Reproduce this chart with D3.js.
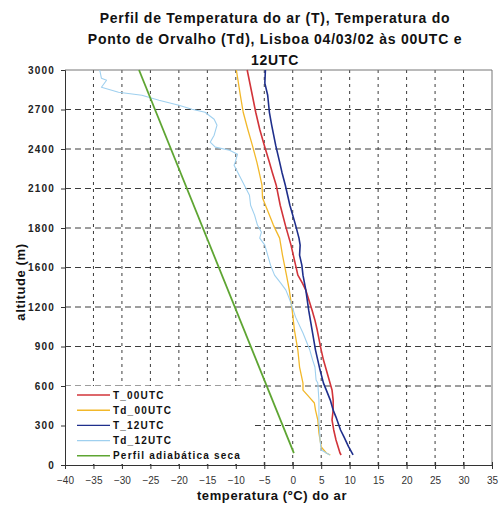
<!DOCTYPE html>
<html lang="pt">
<head>
<meta charset="UTF-8">
<title>Perfil de Temperatura - Lisboa 04/03/02</title>
<script src="https://d3js.org/d3.v7.min.js"></script>
<style>
  body { margin: 0; background: #fff; }
  svg { display: block; font-family: "Liberation Sans", Arial, sans-serif; }
  .grid-h { stroke: #3c3c3c; stroke-width: 1; stroke-dasharray: 6,4; }
  .grid-v { stroke: #3c3c3c; stroke-width: 1; stroke-dasharray: 3,4; }
  .title { font-size: 14px; font-weight: bold; fill: #111; letter-spacing: 0.75px; }
  .axis-title { font-size: 13px; font-weight: bold; fill: #111; letter-spacing: 0.6px; }
  .x-axis text { font-size: 10px; fill: #333; }
  .y-axis text { font-size: 10px; font-weight: bold; fill: #222; letter-spacing: 1.2px; }
  .axis path, .axis line { stroke: #333; }
  .legend text { font-size: 10px; font-weight: bold; fill: #111; letter-spacing: 1.2px; }
  .profile { fill: none; stroke-linejoin: round; }
</style>
</head>
<body>
<div id="chart"></div>
<script>
// tick values / labels as printed on the chart
const xTicks = [-40, -35, -30, -25, -20, -15, -10, -5, 0, 5, 10, 15, 20, 25, 30, 35];
const yTicks = [0, 300, 600, 900, 1200, 1500, 1800, 2100, 2400, 2700, 3000];
const yTickLabels = ["0", "300", "600", "900", "1200", "1600", "1800", "2100", "2400", "2700", "3000"];

const titleLines = [
  "Perfil de Temperatura do ar (T), Temperatura do",
  "Ponto de Orvalho (Td), Lisboa 04/03/02 às 00UTC e",
  "12UTC"
];
const seriesNames = ["T_00UTC", "Td_00UTC", "T_12UTC", "Td_12UTC", "Perfil adiabática seca"];
const seriesColors = ["#d2343a", "#f2b82a", "#1f2f8c", "#9fd0ef", "#5ea532"];

// T_00UTC
const t00Alt  = [76, 91, 190, 266, 342, 417, 493, 570, 645, 797, 873, 1025, 1100, 1176, 1328, 1381, 1442, 1518, 1594, 1670, 1822, 1973, 2125, 2224, 2300, 2429, 2550, 2679, 2808, 3000];
const t00Temp = [8.5, 8.3, 7.6, 7.2, 6.9, 7.1, 7.1, 6.9, 6.4, 5.4, 5.0, 4.3, 3.9, 3.4, 2.3, 1.7, 0.9, 0.5, 0.1, -0.3, -1.3, -2.2, -2.9, -3.6, -4.1, -5.0, -5.8, -6.5, -7.1, -8.0];

// Td_00UTC
const td00Alt  = [76, 91, 137, 243, 342, 417, 471, 516, 569, 622, 744, 873, 1025, 1176, 1328, 1442, 1594, 1723, 1822, 1898, 2027, 2125, 2224, 2300, 2429, 2550, 2679, 2808, 3000];
const td00Temp = [6.6, 5.9, 5.0, 4.6, 4.4, 4.0, 3.8, 2.9, 1.8, 1.8, 1.2, 0.9, 0.3, -0.1, -0.6, -1.1, -1.8, -2.3, -3.4, -4.1, -5.3, -5.4, -5.9, -6.3, -7.1, -7.9, -8.7, -9.2, -9.9];

// T_12UTC
const t12Alt  = [76, 140, 213, 266, 364, 417, 493, 569, 622, 721, 797, 873, 1025, 1176, 1328, 1442, 1518, 1594, 1670, 1723, 1822, 1973, 2125, 2224, 2300, 2429, 2581, 2679, 2808, 2900, 3000];
const t12Temp = [10.6, 9.8, 9.0, 8.4, 7.6, 7.1, 6.6, 5.9, 5.4, 4.8, 4.4, 4.0, 3.4, 2.8, 2.3, 1.8, 1.6, 1.2, 1.3, 1.1, 0.5, -0.5, -1.3, -1.9, -2.3, -3.0, -3.7, -4.1, -4.4, -4.9, -4.8];

// Td_12UTC
const td12Alt  = [76, 114, 190, 342, 493, 622, 645, 744, 797, 873, 1002, 1123, 1252, 1328, 1381, 1442, 1518, 1594, 1670, 1723, 1768, 1822, 1898, 1973, 2049, 2125, 2201, 2277, 2300, 2360, 2391, 2414, 2452, 2505, 2581, 2626, 2679, 2702, 2732, 2770, 2808, 2831, 2869, 2922, 2937, 3000];
const td12Temp = [6.5, 5.0, 4.8, 4.6, 4.6, 4.4, 4.1, 3.9, 3.5, 3.0, 1.8, 0.5, -0.5, -1.2, -2.1, -3.2, -3.9, -4.4, -4.9, -5.8, -5.5, -6.2, -6.7, -7.4, -7.6, -8.5, -9.4, -10.3, -10.1, -9.7, -11.1, -13.6, -14.5, -13.8, -13.3, -13.8, -15.4, -17.7, -20.0, -23.5, -26.5, -30.6, -33.6, -32.7, -33.6, -33.9];

// dry adiabatic profile
const adiaAlt  = [90, 3000];
const adiaTemp = [0.2, -27.0];

const width = 503, height = 505;

const svg = d3.select("#chart").append("svg")
    .attr("width", width)
    .attr("height", height);

const x = d3.scaleLinear().domain([-40, 35]).range([65, 492]);
const y = d3.scaleLinear().domain([0, 3000]).range([465, 70]);

// title
svg.append("g").selectAll("text")
    .data(titleLines)
    .enter().append("text")
    .attr("class", "title")
    .attr("x", 275)
    .attr("y", (d, i) => 23 + i * 21)
    .attr("text-anchor", "middle")
    .text(d => d);

// grid
svg.append("g").selectAll("line")
    .data(yTicks.slice(1, -1))
    .enter().append("line")
    .attr("class", "grid-h")
    .attr("x1", x(-40)).attr("x2", x(35))
    .attr("y1", d => y(d)).attr("y2", d => y(d));

svg.append("g").selectAll("line")
    .data(xTicks.slice(1, -1))
    .enter().append("line")
    .attr("class", "grid-v")
    .attr("x1", d => x(d)).attr("x2", d => x(d))
    .attr("y1", y(3000)).attr("y2", y(0));

// frame top / right
svg.append("path")
    .attr("d", `M${x(-40)},${y(3000)}H${x(35)}V${y(0)}`)
    .attr("fill", "none")
    .attr("stroke", "#777")
    .attr("stroke-width", 1);

// axes
const xAxis = svg.append("g")
    .attr("class", "axis x-axis")
    .attr("transform", `translate(0,${y(0)})`)
    .call(d3.axisBottom(x).tickValues(xTicks).tickSizeOuter(0).tickSize(4).tickPadding(8));
xAxis.selectAll(".tick line").attr("y1", -3);

const yAxis = svg.append("g")
    .attr("class", "axis y-axis")
    .attr("transform", `translate(${x(-40)},0)`)
    .call(d3.axisLeft(y).tickValues(yTicks).tickSizeOuter(0).tickSize(4).tickPadding(6)
        .tickFormat((d, i) => yTickLabels[i]));

// profiles
const series = [
  { alt: t00Alt, temp: t00Temp, w: 1.6 },
  { alt: td00Alt, temp: td00Temp, w: 1.3 },
  { alt: t12Alt, temp: t12Temp, w: 1.6 },
  { alt: td12Alt, temp: td12Temp, w: 1.1 },
  { alt: adiaAlt, temp: adiaTemp, w: 1.8 }
];

const line = d3.line()
    .x(d => x(d[0]))
    .y(d => y(d[1]));

svg.append("g").selectAll("path")
    .data(series)
    .enter().append("path")
    .attr("class", "profile")
    .attr("stroke", (d, i) => seriesColors[i])
    .attr("stroke-width", d => d.w)
    .attr("d", d => line(d.temp.map((t, k) => [t, d.alt[k]])));

// legend
const legend = svg.append("g").attr("class", "legend");
legend.append("rect")
    .attr("x", x(-40) + 1).attr("y", 386)
    .attr("width", 187).attr("height", y(0) - 387)
    .attr("fill", "#fff");

const items = legend.selectAll("g.item")
    .data(seriesNames)
    .enter().append("g")
    .attr("class", "item")
    .attr("transform", (d, i) => `translate(0,${395 + i * 15.2})`);

items.append("line")
    .attr("x1", 77).attr("x2", 110)
    .attr("stroke", (d, i) => seriesColors[i])
    .attr("stroke-width", 1.4);

items.append("text")
    .attr("x", 113)
    .attr("dy", "0.35em")
    .text(d => d);

// axis titles
svg.append("text")
    .attr("class", "axis-title")
    .attr("transform", "translate(25,282) rotate(-90)")
    .attr("text-anchor", "middle")
    .text("altitude (m)");

svg.append("text")
    .attr("class", "axis-title")
    .attr("x", 272)
    .attr("y", 500)
    .attr("text-anchor", "middle")
    .text("temperatura (ºC) do ar");
</script>
</body>
</html>
